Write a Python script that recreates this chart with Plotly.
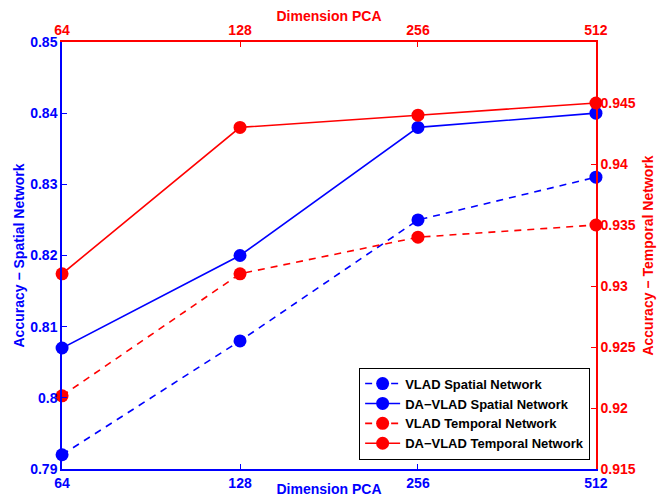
import math
import plotly.graph_objects as go

dims = [64, 128, 256, 512]
dim_labels = ["64", "128", "256", "512"]
vlad_spatial = [0.792, 0.808, 0.825, 0.831]
davlad_spatial = [0.807, 0.820, 0.838, 0.840]
vlad_temporal = [0.921, 0.931, 0.934, 0.935]
davlad_temporal = [0.931, 0.943, 0.944, 0.945]

left_ticks = [0.79, 0.80, 0.81, 0.82, 0.83, 0.84, 0.85]
left_labels = ["0.79", "0.8", "0.81", "0.82", "0.83", "0.84", "0.85"]
right_ticks = [0.915, 0.92, 0.925, 0.93, 0.935, 0.94, 0.945]
right_labels = ["0.915", "0.92", "0.925", "0.93", "0.935", "0.94", "0.945"]

BLUE = "#0000ff"
RED = "#ff0000"
FONT = "Liberation Sans"


def b(s):
    return "<b>" + s + "</b>"


fig = go.Figure()
dash = "7px,6px"
fig.add_trace(go.Scatter(x=dims, y=vlad_spatial, name=b("VLAD Spatial Network"),
                         mode="lines+markers", line=dict(color=BLUE, width=1.6, dash=dash),
                         marker=dict(size=13, color=BLUE), cliponaxis=False,
                         xaxis="x", yaxis="y"))
fig.add_trace(go.Scatter(x=dims, y=davlad_spatial, name=b("DA\u2212VLAD Spatial Network"),
                         mode="lines+markers", line=dict(color=BLUE, width=1.6),
                         marker=dict(size=13, color=BLUE), cliponaxis=False,
                         xaxis="x", yaxis="y"))
fig.add_trace(go.Scatter(x=dims, y=vlad_temporal, name=b("VLAD Temporal Network"),
                         mode="lines+markers", line=dict(color=RED, width=1.6, dash=dash),
                         marker=dict(size=13, color=RED), cliponaxis=False,
                         xaxis="x2", yaxis="y2"))
fig.add_trace(go.Scatter(x=dims, y=davlad_temporal, name=b("DA\u2212VLAD Temporal Network"),
                         mode="lines+markers", line=dict(color=RED, width=1.6),
                         marker=dict(size=13, color=RED), cliponaxis=False,
                         xaxis="x2", yaxis="y2"))

eps = 1e-4
xr = [math.log10(64) - eps, math.log10(512) + eps]

tf_blue = dict(color=BLUE, size=14, family=FONT)
tf_red = dict(color=RED, size=14, family=FONT)

# the page body has an 8px default margin, so the figure is sized to fit
fig.update_layout(
    width=657, height=489,
    margin=dict(l=54, r=69, t=34, b=28),
    paper_bgcolor="white", plot_bgcolor="white",
    font=dict(family=FONT, size=14),
    showlegend=True,
    legend=dict(x=0.989, xanchor="right", y=0.022, yanchor="bottom",
                bgcolor="white", bordercolor="black", borderwidth=1,
                font=dict(family=FONT, size=13, color="black"),
                tracegroupgap=0, itemwidth=35),
    xaxis=dict(type="log", range=xr, tickvals=dims, ticktext=[b(t) for t in dim_labels],
               showgrid=False, zeroline=False, showline=True, linecolor=BLUE, linewidth=1.5,
               ticks="inside", ticklen=5, tickcolor=BLUE, automargin=False,
               tickfont=tf_blue,
               title=dict(text=b("Dimension PCA"), font=tf_blue, standoff=2),
               anchor="y"),
    xaxis2=dict(type="log", range=xr, tickvals=dims, ticktext=[b(t) for t in dim_labels],
                overlaying="x", side="top", anchor="y2", automargin=False,
                showgrid=False, zeroline=False, showline=True, linecolor=RED, linewidth=1.5,
                ticks="inside", ticklen=5, tickcolor=RED,
                tickfont=tf_red,
                title=dict(text=b("Dimension PCA"), font=tf_red, standoff=6)),
    yaxis=dict(range=[0.79, 0.85], tickvals=left_ticks, ticktext=[b(t) for t in left_labels],
               showgrid=False, zeroline=False, showline=True, linecolor=BLUE, linewidth=1.5,
               ticks="inside", ticklen=5, tickcolor=BLUE, automargin=False,
               tickfont=tf_blue,
               title=dict(text=b("Accuracy \u2212 Spatial Network"), font=tf_blue, standoff=2),
               anchor="x"),
    yaxis2=dict(range=[0.915, 0.95], tickvals=right_ticks, ticktext=[b(t) for t in right_labels],
                overlaying="y", side="right", anchor="x2", automargin=False,
                showgrid=False, zeroline=False, showline=True, linecolor=RED, linewidth=1.5,
                ticks="inside", ticklen=5, tickcolor=RED,
                tickfont=tf_red,
                title=dict(text=b("Accuracy \u2212 Temporal Network"), font=tf_red, standoff=8)),
)

fig.write_html("out.html")
